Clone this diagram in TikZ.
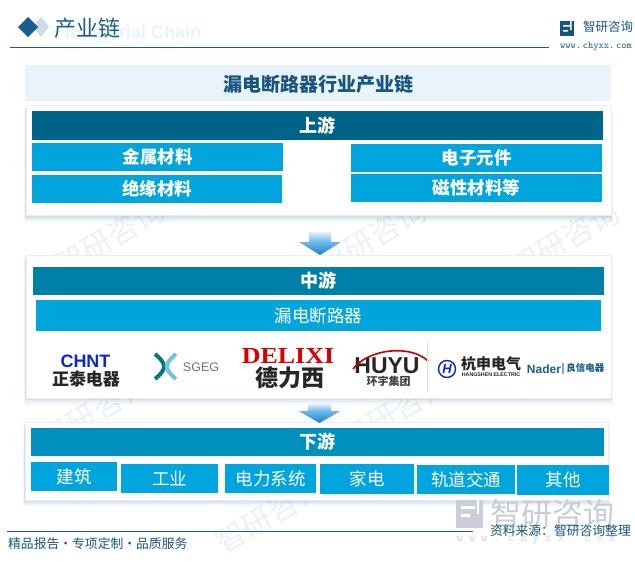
\documentclass[tikz,border=0pt]{standalone}
\usepackage{fontspec}
\setmainfont{Liberation Sans}
\newfontfamily\cjk{Noto Sans CJK SC}
\newfontfamily\slab{Liberation Serif}
\usetikzlibrary{shadows}
\definecolor{navy}{HTML}{1A5F8C}
\definecolor{titleblue}{HTML}{17557F}
\definecolor{pale}{HTML}{E8F3FB}
\definecolor{upbar}{HTML}{006488}
\definecolor{midbar}{HTML}{0080A8}
\definecolor{lowbar}{HTML}{0090BE}
\definecolor{cell}{HTML}{00A5DE}
\definecolor{markgrey}{HTML}{EDF1F4}
\definecolor{arrowtop}{HTML}{E4F1FB}
\definecolor{arrowmid}{HTML}{6DB7EC}
\definecolor{arrowtip}{HTML}{1B82C4}
\tikzset{
  bar/.style={fill=#1,text=white,inner sep=0pt,font=\cjk\fontsize{18}{18}\selectfont\bfseries},
  cellbox/.style={fill=cell,text=white,inner sep=0pt,font=\cjk\fontsize{17.5}{18}\selectfont\bfseries},
  thincell/.style={fill=cell,text=white,inner sep=0pt,font=\cjk\fontsize{17.5}{18}\selectfont},
  panel/.style={draw=blue!8,fill=white,line width=1pt,inner sep=0pt,
    drop shadow={shadow xshift=0pt,shadow yshift=-6pt,shadow scale=1.008,fill=navy,opacity=.05},
    drop shadow={shadow xshift=0pt,shadow yshift=-4pt,shadow scale=1.005,fill=navy,opacity=.07},
    drop shadow={shadow xshift=0pt,shadow yshift=-2pt,shadow scale=1.002,fill=navy,opacity=.09}},
  watermark/.style={text=markgrey,rotate=30,font=\cjk\fontsize{30}{30}\selectfont},
  plain/.style={inner sep=0pt}
}
\begin{document}
\begin{tikzpicture}[x=1pt,y=-1pt]
\useasboundingbox (0,0) rectangle (635,562);
% background marks
\foreach \px/\py in {372/238,95/412,395/412,110/238,270/515,565/240}
  \node[watermark] at (\px,\py) {智研咨询};
% header
\fill[navy!22] (41,17) -- (49,27) -- (41,37) -- (33,27) -- cycle;
\fill[navy] (28,17) -- (38,27) -- (28,37) -- (18,27) -- cycle;
\node[plain,text=pale,font=\bfseries\fontsize{18}{18}\selectfont,anchor=west] (ghost) at (65,32) {Industrial Chain};
\node[plain,text=navy,font=\cjk\fontsize{22}{22}\selectfont] (head) at (87.5,28) {产业链};
\coordinate (ruleL) at (10,47.5);
\coordinate (ruleR) at (549,47.5);
\draw[navy,line width=1pt] (ruleL) -- (ruleR);
\fill[titleblue] (560,21) rectangle (574,36);
\fill[white] (563,25) rectangle (571,26.5) (563,30) rectangle (568,31.5) (570,21) rectangle (571.5,30);
\node[plain,text=titleblue,font=\cjk\fontsize{12.5}{13}\selectfont] (brand) at (608,27) {智研咨询};
\node[plain,text=titleblue,font=\ttfamily\fontsize{10}{10}\selectfont] (site) at (596,47) {www.\,chyxx.\,com};
% title band
\node[plain,fill=pale,minimum width=586,minimum height=36] (band) at (318,83) {};
\node[plain,text=titleblue,font=\cjk\fontsize{19}{19}\selectfont\bfseries] (title) at (318,84) {漏电断路器行业产业链};
% upstream
\node[panel,minimum width=585,minimum height=110] (upper) at (318.5,160.5) {};
\node[bar=upbar,minimum width=571,minimum height=29] (up) at (317.5,125.5) {上游};
\node[cellbox,minimum width=251,minimum height=28] (metal) at (157.5,157) {金属材料};
\node[cellbox,minimum width=250,minimum height=28] (insul) at (157,189) {绝缘材料};
\node[cellbox,minimum width=251,minimum height=28] (elec) at (476.5,158) {电子元件};
\node[cellbox,minimum width=251,minimum height=28] (magn) at (476.5,188) {磁性材料等};
% midstream
\node[panel,minimum width=585,minimum height=143] (middle) at (318.5,326.5) {};
\node[bar=midbar,minimum width=571,minimum height=28] (mid) at (318.5,281) {中游};
\node[thincell,minimum width=565,minimum height=31] (breaker) at (318.5,315.5) {漏电断路器};
% logos
\node[plain,text=blue!60!navy,font=\bfseries\fontsize{18}{18}\selectfont] (chnt) at (85.5,361) {CHNT};
\node[plain,text=black!85,font=\cjk\fontsize{17}{17}\selectfont\bfseries] (chntb) at (86,378.5) {正泰电器};
\draw[teal!70!navy,line width=4pt] (155,354) .. controls (167,364) and (167,369) .. (155,379);
\draw[cyan!60!teal!60,line width=4pt] (176,354) .. controls (164,364) and (164,369) .. (176,379);
\node[plain,text=black!55,font=\fontsize{12.5}{13}\selectfont] (sgeg) at (201,367) {SGEG};
\node[plain,text=red!85!black,font=\slab\bfseries\fontsize{23}{23}\selectfont] (delixi) at (288,355.5) {\scalebox{1.13}[1]{DELIXI}};
\node[plain,text=black!85,font=\cjk\fontsize{23}{23}\selectfont\bfseries] (delixib) at (289.5,378) {德力西};
\node[plain,text=black!85,font=\bfseries\fontsize{23}{23}\selectfont] (huyu) at (387,365.5) {HUYU};
\draw[red!80!black,line width=1.6pt] (353,369) .. controls (368,349) and (410,344) .. (428,361);
\node[plain,text=black!75,font=\cjk\fontsize{11}{11}\selectfont\bfseries] (huyub) at (388.5,381) {环宇集团};
\coordinate (splitT) at (427,342);
\coordinate (splitB) at (427,392);
\draw[black!12] (splitT) -- (splitB);
\draw[blue!60!navy,line width=1.4pt] (447,369) circle (8.5);
\node[plain,text=blue!60!navy,font=\bfseries\itshape\fontsize{13}{13}\selectfont] (hicon) at (447,369) {H};
\node[plain,text=black!85,font=\cjk\fontsize{15}{15}\selectfont\bfseries] (hang) at (491,364) {杭申电气};
\node[plain,text=black!85,font=\bfseries\fontsize{5.3}{6}\selectfont] (hangb) at (491,375) {HANGSHEN ELECTRIC};
\node[plain,text=navy,font=\bfseries\fontsize{12}{12}\selectfont] (nader) at (544,369) {Nader};
\node[plain,text=navy,font=\cjk\fontsize{9.5}{10}\selectfont\bfseries] (liang) at (583,369) {|\,良信电器};
% downstream
\node[panel,minimum width=583,minimum height=78] (lower) at (316.5,461) {};
\node[bar=lowbar,minimum width=573,minimum height=28] (down) at (317.5,442) {下游};
\node[thincell,minimum width=86,minimum height=29] (build) at (74,476.5) {建筑};
\node[thincell,minimum width=97,minimum height=29] (indus) at (169.5,478.5) {工业};
\node[thincell,minimum width=91,minimum height=29] (power) at (270.5,478.5) {电力系统};
\node[thincell,minimum width=94,minimum height=30] (home) at (367,479) {家电};
\node[thincell,minimum width=98,minimum height=29] (rail) at (466,479.5) {轨道交通};
\node[thincell,minimum width=92,minimum height=30] (other) at (563,480) {其他};
% arrows between panels
\foreach \ax/\atop/\aneck/\atip in {320/232/242/255,319.5/404/411/423}{
  \shade[top color=arrowtop,bottom color=arrowmid] (\ax-11,\atop) rectangle (\ax+11,\aneck);
  \shade[top color=arrowmid,bottom color=arrowtip] (\ax-21,\aneck) -- (\ax+21,\aneck) -- (\ax,\atip) -- cycle;
}
% footer
\node[plain,text=navy!30!black!22,font=\cjk\fontsize{31}{31}\selectfont,anchor=west] (markbig) at (490,514) {智研咨询};
\fill[blue!30!black!20] (456,500) rectangle (483,528);
\fill[white] (461,506) rectangle (475,509) (461,514) rectangle (470,517) (477,500) rectangle (479,514);
\node[plain,text=black!18,font=\ttfamily\fontsize{12}{12}\selectfont] (marksite) at (536,539) {w w w . c h y x x . c o m};
\coordinate (footA) at (7,531);
\coordinate (footB) at (473,531);
\draw[navy,line width=.9pt] (footA) -- (footB);
\node[plain,text=titleblue,font=\cjk\fontsize{12.8}{13}\selectfont,anchor=east] (source) at (631,531) {资料来源：智研咨询整理};
\node[plain,text=titleblue,font=\cjk\fontsize{12.8}{13}\selectfont,anchor=west] (slogan) at (8,544) {精品报告·专项定制·品质服务};
\end{tikzpicture}
\end{document}
